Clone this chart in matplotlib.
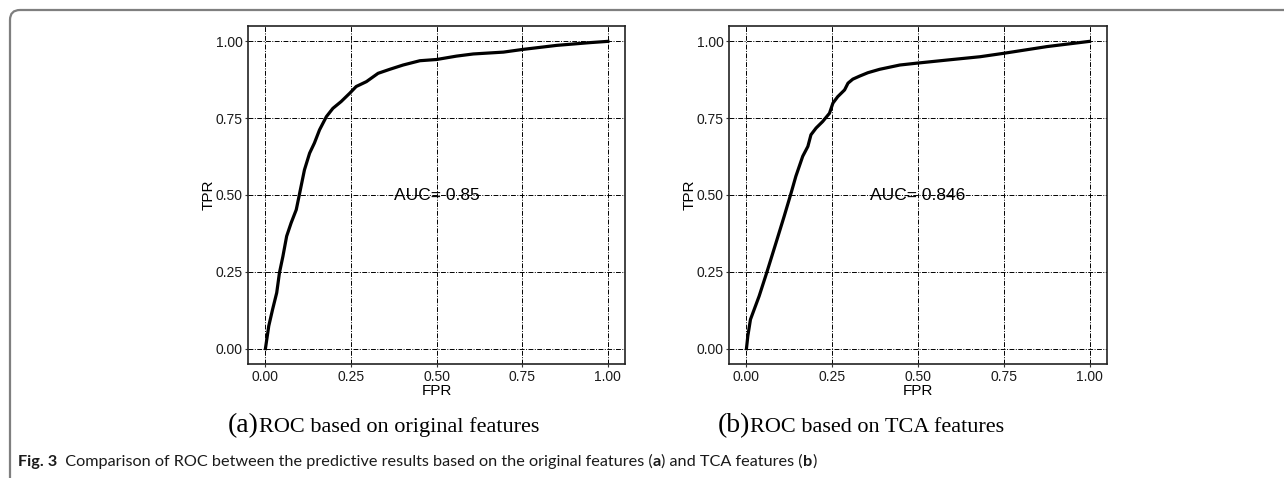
import matplotlib
matplotlib.use("Agg")
import matplotlib.pyplot as plt
from matplotlib.path import Path
from matplotlib.patches import PathPatch
import matplotlib.transforms as mtransforms
from matplotlib import font_manager

# ---- data ----
fpr_orig = [0.0, 0.0098, 0.021, 0.033, 0.041, 0.051, 0.062, 0.075, 0.090, 0.100,
            0.114, 0.129, 0.143, 0.158, 0.178, 0.197, 0.221, 0.246, 0.265, 0.295,
            0.329, 0.363, 0.402, 0.451, 0.500, 0.558, 0.607, 0.695, 0.753, 0.851,
            0.949, 1.0]
tpr_orig = [0.0, 0.074, 0.128, 0.182, 0.247, 0.300, 0.366, 0.409, 0.452, 0.506,
            0.582, 0.636, 0.669, 0.712, 0.755, 0.782, 0.804, 0.831, 0.853, 0.869,
            0.896, 0.909, 0.923, 0.937, 0.941, 0.952, 0.959, 0.965, 0.974, 0.987,
            0.996, 1.0]
fpr_tca = [0.0, 0.004, 0.0117, 0.037, 0.059, 0.086, 0.110, 0.130, 0.144, 0.164,
           0.179, 0.188, 0.203, 0.222, 0.242, 0.252, 0.266, 0.286, 0.296, 0.310,
           0.330, 0.354, 0.388, 0.447, 0.496, 0.583, 0.681, 0.749, 0.876, 1.0]
tpr_tca = [0.0, 0.041, 0.095, 0.171, 0.247, 0.344, 0.431, 0.506, 0.561, 0.626,
           0.658, 0.696, 0.718, 0.739, 0.766, 0.799, 0.820, 0.842, 0.864, 0.877,
           0.887, 0.898, 0.909, 0.923, 0.929, 0.939, 0.950, 0.961, 0.983, 1.0]
auc_labels = ["AUC= 0.85", "AUC= 0.846"]
tick_vals = [0.0, 0.25, 0.5, 0.75, 1.0]
tick_labels = ["0.00", "0.25", "0.50", "0.75", "1.00"]
panel_tags = ["(a)", "(b)"]
panel_titles = ["ROC based on original features", "ROC based on TCA features"]
fig_label = "Fig. 3"
fig_caption = ("Comparison of ROC between the predictive results based on the "
               "original features (")
W, H = 1284, 478
fig = plt.figure(figsize=(W / 100, H / 100), dpi=100)
fig.patch.set_facecolor("white")

sans = ["Liberation Sans", "DejaVu Sans"]
installed = {f.name for f in font_manager.fontManager.ttflist}
if "Liberation Sans Narrow" in installed:
    tick_font, tick_size = ["Liberation Sans Narrow", "DejaVu Sans"], 12
else:
    tick_font, tick_size = sans, 10

def px(x0, y0, x1, y1):
    return [x0 / W, 1 - y1 / H, (x1 - x0) / W, (y1 - y0) / H]

axes_boxes = [px(248.3, 26, 625, 364), px(729.3, 26, 1106.7, 364)]
series = [(fpr_orig, tpr_orig), (fpr_tca, tpr_tca)]

for box, (xs, ys), auc in zip(axes_boxes, series, auc_labels):
    ax = fig.add_axes(box)
    ax.set_xlim(-0.05, 1.05)
    ax.set_ylim(-0.05, 1.05)
    ax.set_xticks(tick_vals)
    ax.set_yticks(tick_vals)
    ax.set_xticklabels(tick_labels, fontfamily=tick_font, fontsize=tick_size,
                       color="#1a1a1a")
    ax.set_yticklabels(tick_labels, fontfamily=tick_font, fontsize=tick_size,
                       color="#1a1a1a")
    ax.tick_params(length=2.5, width=0.8, color="#333333", pad=1.5)
    ax.grid(True, color="black", linewidth=0.7,
            linestyle=(0, (5, 1.5, 1, 1.5)))
    ax.set_axisbelow(True)
    for s in ax.spines.values():
        s.set_linewidth(1.2)
        s.set_color("#222222")
    ax.plot(xs, ys, color="black", linewidth=2.3, solid_joinstyle="round")
    ax.text(0.5, 0.5, auc, ha="center", va="center", fontfamily=sans,
            fontsize=12.5, color="black")
    ax.set_xlabel("FPR", fontfamily=sans, fontsize=11, labelpad=0)
    ax.set_ylabel("TPR", fontfamily=sans, fontsize=11, labelpad=0)

# ---- outer rounded frame (left/top) ----
r = 10
verts = [(W, H - 10), (10 + r, H - 10), (10, H - 10), (10, H - 10 - r), (10, 0)]
codes = [Path.MOVETO, Path.LINETO, Path.CURVE3, Path.CURVE3, Path.LINETO]
tr = mtransforms.Affine2D().scale(1 / W, 1 / H) + fig.transFigure
fig.patches.append(PathPatch(Path(verts, codes), transform=tr, fill=False,
                             edgecolor="#7f7f7f", linewidth=1.6))

# ---- panel captions ----
fig.canvas.draw()
renderer = fig.canvas.get_renderer()
serif = ["Liberation Serif", "DejaVu Serif"]
for x0, tag, title in zip([228, 718], panel_tags, panel_titles):
    t1 = fig.text(x0 / W, 1 - 432 / H, tag, fontfamily=serif, fontsize=20,
                  va="baseline", ha="left")
    bb = t1.get_window_extent(renderer)
    fig.text(bb.x1 / W, 1 - 432 / H, title, fontfamily=serif, fontsize=16,
             va="baseline", ha="left")

# ---- figure caption ----
cap_font = ["Lato", "DejaVu Sans"]
y_cap = 1 - 466 / H
parts = [(fig_label, "bold"), ("  " + fig_caption, "normal"), ("a", "bold"),
         (") and TCA features (", "normal"), ("b", "bold"), (")", "normal")]
x = 18
for txt, wgt in parts:
    t = fig.text(x / W, y_cap, txt, fontfamily=cap_font, fontsize=11.7,
                 fontweight=wgt, va="baseline", ha="left", color="#1a1a1a")
    bb = t.get_window_extent(renderer)
    x = bb.x1

fig.savefig("out.png", dpi=100)
